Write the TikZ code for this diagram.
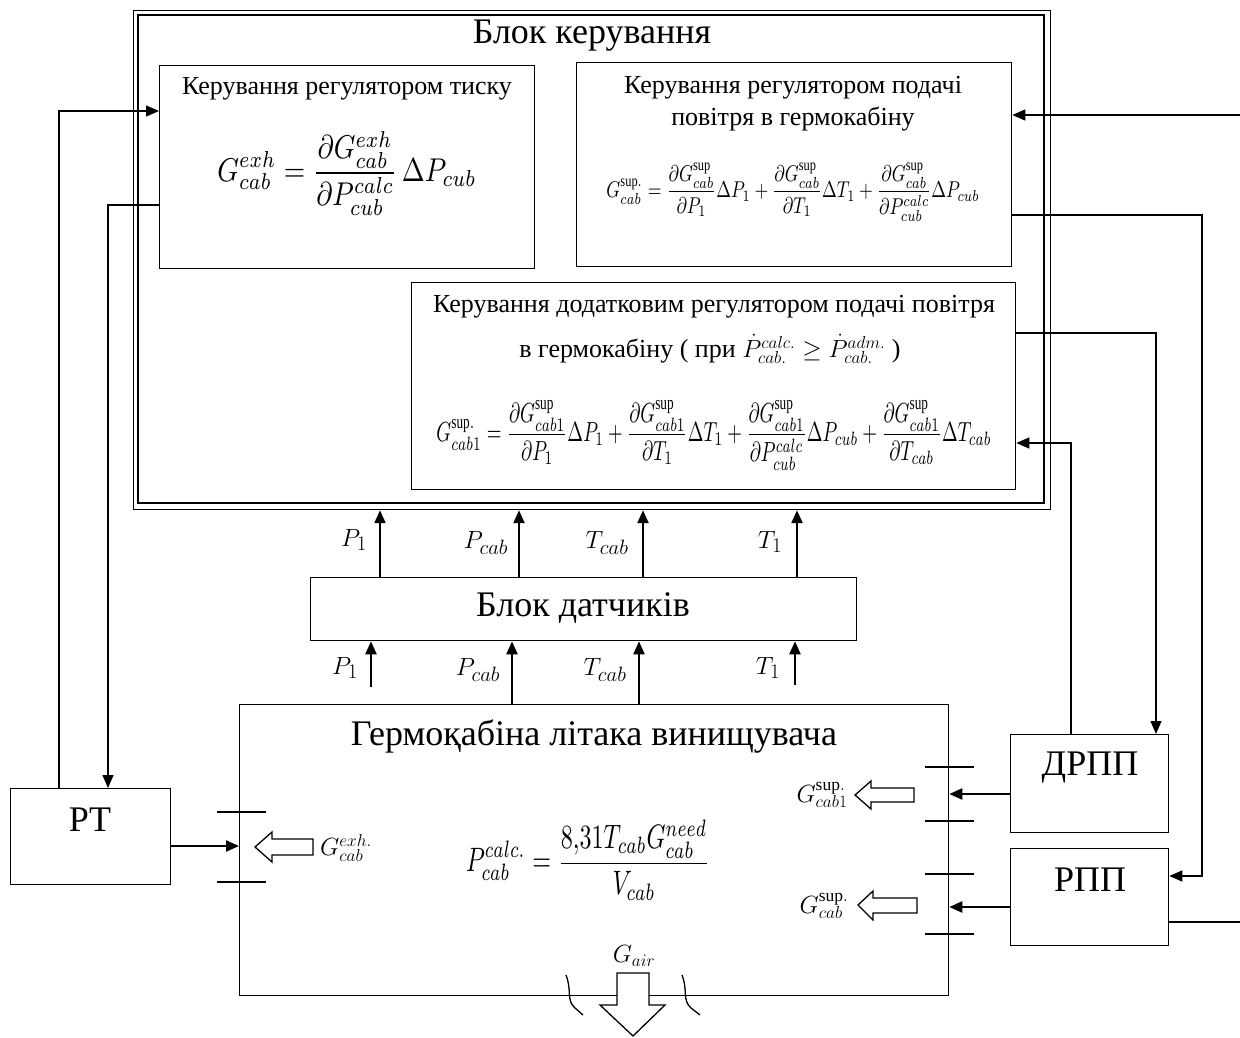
\documentclass[tikz,border=0pt]{standalone}
\usepackage{fontspec}
\setmainfont{Liberation Serif}
\usepackage{graphicx}
\usetikzlibrary{arrows.meta}
\begin{document}
\begin{tikzpicture}[x=1pt,y=-1pt,
  box/.style={draw,line width=1.3pt,anchor=north west,inner sep=0pt},
  conn/.style={line width=1.3pt,-{Triangle[length=13pt,width=11pt]}},
  bold/.style={line width=2.3pt,-{Triangle[length=13pt,width=11pt]}},
  plain/.style={line width=1.3pt},
  hollow/.style={draw,line width=1.3pt,fill=white},
  big/.style={font=\fontsize{36}{40}\selectfont},
  mid/.style={font=\fontsize{26}{32}\selectfont,align=center},
  lbl/.style={font=\fontsize{30}{34}\selectfont},
  sym/.style={font=\fontsize{25}{28}\selectfont},
]
\useasboundingbox (0,0) rectangle (1240,1037);
\fill[white] (0,0) rectangle (1240,1037);

% control block (double frame)
\node[box,line width=1.2pt,minimum width=917pt,minimum height=499pt] (ctrl) at (133,10) {};
\draw[line width=2.6pt] (138,15) rectangle (1044,503);
\node[big] (ctrlt) at (592,36) {Блок керування};

% box 1
\node[box,minimum width=375pt,minimum height=203pt] (b1) at (159,65) {};
\node[mid] (b1t) at (347,89) {Керування регулятором тиску};
\node (b1f) at (347,173) {\resizebox*{259pt}{84pt}{$\displaystyle G_{cab}^{exh}=\frac{\partial G_{cab}^{exh}}{\partial P_{cub}^{calc}}\,\Delta P_{cub}$}};

% box 2
\node[box,minimum width=435pt,minimum height=204pt] (b2) at (576,62) {};
\node[mid] (b2t) at (793,104) {Керування регулятором подачі\\повітря в гермокабіну};
\node (b2f) at (793,192) {\resizebox*{373pt}{58pt}{$\displaystyle G_{cab}^{\mathrm{sup.}}=\frac{\partial G_{cab}^{\mathrm{sup}}}{\partial P_1}\Delta P_1+\frac{\partial G_{cab}^{\mathrm{sup}}}{\partial T_1}\Delta T_1+\frac{\partial G_{cab}^{\mathrm{sup}}}{\partial P_{cub}^{calc}}\Delta P_{cub}$}};

% box 3
\node[box,minimum width=604pt,minimum height=207pt] (b3) at (411,282) {};
\node[mid] (b3t1) at (714,307) {Керування додатковим регулятором подачі повітря};
\node[mid] (b3t2) at (710,349) {в гермокабіну ( при $\dot{P}_{cab.}^{calc.}\ge\dot{P}_{cab.}^{adm.}$ )};
\node (b3f) at (714,435) {\resizebox*{555pt}{70pt}{$\displaystyle G_{cab1}^{\mathrm{sup.}}=\frac{\partial G_{cab1}^{\mathrm{sup}}}{\partial P_1}\Delta P_1+\frac{\partial G_{cab1}^{\mathrm{sup}}}{\partial T_1}\Delta T_1+\frac{\partial G_{cab1}^{\mathrm{sup}}}{\partial P_{cub}^{calc}}\Delta P_{cub}+\frac{\partial G_{cab1}^{\mathrm{sup}}}{\partial T_{cab}}\Delta T_{cab}$}};

% sensor block
\node[box,minimum width=546pt,minimum height=63pt] (sens) at (310,577) {};
\node[big] (senst) at (583,608) {Блок датчиків};

% cabin
\node[box,minimum width=709pt,minimum height=291pt] (cab) at (239,704) {};
\node[big] (cabt) at (594,736) {Гермоқабіна літака винищувача};
\node (cabf) at (588,860) {\resizebox*{244pt}{80pt}{$\displaystyle P_{cab}^{calc.}=\frac{8{,}31T_{cab}G_{cab}^{need}}{V_{cab}}$}};

% regulators
\node[box,minimum width=160pt,minimum height=96pt] (rt) at (10,788) {};
\node[big] (rtt) at (90,820) {РТ};
\node[box,minimum width=158pt,minimum height=98pt] (drpp) at (1010,734) {};
\node[big] (drppt) at (1090,768) {ДРПП};
\node[box,minimum width=158pt,minimum height=97pt] (rpp) at (1010,848) {};
\node[big] (rppt) at (1090,880) {РПП};

% sensor -> control
\draw[bold] (sens.north -| 380,0) -- (ctrl.south -| 380,0);
\draw[bold] (sens.north -| 519,0) -- (ctrl.south -| 519,0);
\draw[bold] (sens.north -| 643,0) -- (ctrl.south -| 643,0);
\draw[bold] (sens.north -| 797,0) -- (ctrl.south -| 797,0);
\node[lbl] (l1) at (354,540) {$P_1$};
\node[lbl] (l2) at (486,543) {$P_{cab}$};
\node[lbl] (l3) at (607,543) {$T_{cab}$};
\node[lbl] (l4) at (770,542) {$T_1$};

% cabin -> sensor
\coordinate (p1in) at (371,687);
\coordinate (t1in) at (795,685);
\draw[bold] (p1in) -- (sens.south -| p1in);
\draw[bold] (cab.north -| 512,0) -- (sens.south -| 512,0);
\draw[bold] (cab.north -| 639,0) -- (sens.south -| 639,0);
\draw[bold] (t1in) -- (sens.south -| t1in);
\node[lbl] (m1) at (345,668) {$P_1$};
\node[lbl] (m2) at (478,670) {$P_{cab}$};
\node[lbl] (m3) at (605,670) {$T_{cab}$};
\node[lbl] (m4) at (768,668) {$T_1$};

% RT links
\draw[conn] (rt.north -| 59,0) |- (b1.west |- 0,111);
\draw[conn] (b1.west |- 0,205) -| (rt.north -| 108,0);
\draw[bold] (rt.east |- 0,846) -- (cab.west |- 0,846);

% right links
\draw[bold] (drpp.west |- 0,794) -- (cab.east |- 0,794);
\draw[bold] (rpp.west |- 0,907) -- (cab.east |- 0,907);
\coordinate (extin) at (1240,115);
\coordinate (extout) at (1240,922);
\draw[conn] (extin) -- (b2.east |- extin);
\draw[plain] (rpp.east |- extout) -- (extout);
\draw[conn] (b2.east |- 0,215) -- (1202,215) |- (rpp.east |- 0,876);
\draw[conn] (b3.east |- 0,333) -| (drpp.north -| 1156,0);
\draw[conn] (drpp.north -| 1071,0) |- (b3.east |- 0,443);

% valve ticks
\draw[plain] (217,812) -- (266,812) (217,882) -- (266,882);
\draw[plain] (925,767) -- (974,767) (925,821) -- (974,821);
\draw[plain] (925,874) -- (974,874) (925,934) -- (974,934);

% hollow flow arrows
\draw[hollow] (255,847) -- (272,832) -- (272,839) -- (313,839) -- (313,855) -- (272,855) -- (272,862) -- cycle;
\draw[hollow] (855,795) -- (871,781) -- (871,788) -- (914,788) -- (914,802) -- (871,802) -- (871,809) -- cycle;
\draw[hollow] (858,905) -- (873,891) -- (873,898) -- (917,898) -- (917,913) -- (873,913) -- (873,920) -- cycle;
\draw[hollow] (617,973) -- (649,973) -- (649,1005) -- (665,1005) -- (633,1036) -- (600,1005) -- (617,1005) -- cycle;
\node[sym] (gexh) at (346,848) {$G_{cab}^{exh.}$};
\node[sym] (gs1) at (822,795) {$G_{cab1}^{\mathrm{sup.}}$};
\node[sym] (gs) at (824,906) {$G_{cab}^{\mathrm{sup.}}$};
\node[sym] (gair) at (634,956) {$G_{air}$};

% wavy break marks
\draw[plain] (566,975) .. controls (572,990) and (566,1000) .. (575,1008) -- (583,1015);
\draw[plain] (682,975) .. controls (688,990) and (682,1000) .. (691,1008) -- (700,1015);
\end{tikzpicture}
\end{document}
